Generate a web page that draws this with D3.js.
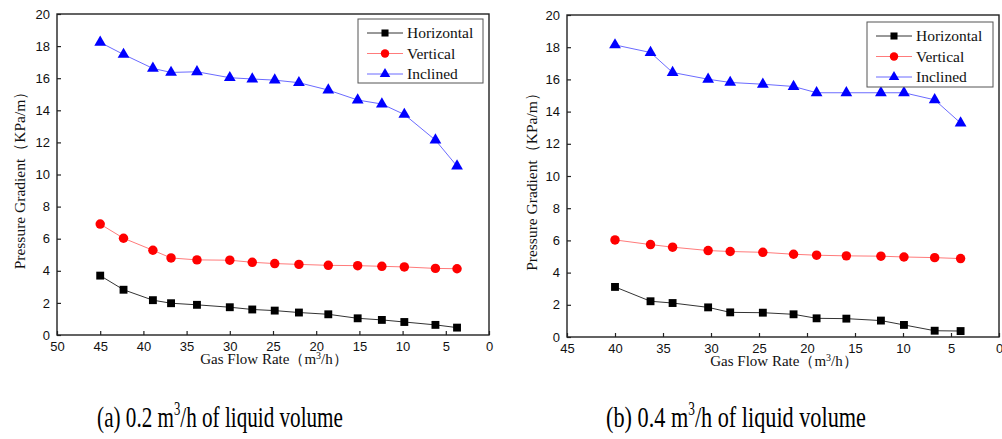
<!DOCTYPE html>
<html>
<head>
<meta charset="utf-8">
<script src="https://cdn.jsdelivr.net/npm/d3@7"></script>
<style>
	body { margin: 0; background: #fff; }
	svg { display: block; }
</style>
</head>
<body>
<main></main>
<script>
// panel (a): 0.2 m3/h liquid
const gasA = [45, 42.3, 38.9, 36.8, 33.8, 30.0, 27.4, 24.8, 22.0, 18.6, 15.2, 12.4, 9.8, 6.2, 3.7];
const horizontalA = [3.70, 2.82, 2.17, 1.98, 1.88, 1.73, 1.59, 1.52, 1.40, 1.29, 1.04, 0.94, 0.81, 0.63, 0.46];
const verticalA = [6.91, 6.03, 5.28, 4.80, 4.68, 4.66, 4.53, 4.45, 4.40, 4.34, 4.32, 4.28, 4.24, 4.15, 4.13];
const inclinedA = [18.23, 17.48, 16.61, 16.36, 16.40, 16.03, 15.95, 15.88, 15.72, 15.26, 14.64, 14.39, 13.74, 12.14, 10.52];

// panel (b): 0.4 m3/h liquid
const gasB = [40.0, 36.3, 34.0, 30.3, 28.0, 24.6, 21.4, 19.0, 15.9, 12.3, 9.9, 6.7, 4.0];
const horizontalB = [3.11, 2.22, 2.11, 1.84, 1.53, 1.51, 1.41, 1.16, 1.14, 1.02, 0.75, 0.39, 0.37];
const verticalB = [6.03, 5.74, 5.58, 5.37, 5.31, 5.26, 5.14, 5.08, 5.04, 5.02, 4.97, 4.93, 4.87];
const inclinedB = [18.14, 17.67, 16.43, 16.01, 15.81, 15.70, 15.56, 15.17, 15.17, 15.17, 15.17, 14.73, 13.29];

const seriesNames = ["Horizontal", "Vertical", "Inclined"];
const xTicksA = [50, 45, 40, 35, 30, 25, 20, 15, 10, 5, 0];
const xTicksB = [45, 40, 35, 30, 25, 20, 15, 10, 5, 0];
const yTicks = [0, 2, 4, 6, 8, 10, 12, 14, 16, 18, 20];

const styles = [
	{ line: "#333333", fill: "#000000", shape: d3.symbolSquare, size: 62 },
	{ line: "#ff7b7b", fill: "#ff0000", shape: d3.symbolCircle, size: 70 },
	{ line: "#6b6bff", fill: "#0000ff", shape: d3.symbolTriangle, size: 60 },
];

const serif = "'Liberation Serif', 'Times New Roman', serif";

const svg = d3.select("main")
	.append("svg")
	.attr("width", 1002)
	.attr("height", 439);

// text built from parts with a raised "3"
function richText(parent, parts, size, supSize, supRise) {
	const t = parent.append("text")
		.attr("text-anchor", "middle")
		.attr("fill", "#111")
		.style("font-family", serif)
		.style("font-size", size + "px");
	t.append("tspan").text(parts[0]);
	t.append("tspan").attr("dy", -supRise).style("font-size", supSize + "px").text("3");
	t.append("tspan").attr("dy", supRise).text(parts[1]);
	return t;
}

function drawPanel(p) {
	const xScale = d3.scaleLinear()
		.domain([p.xMax, 0])
		.range([p.left, p.right]);
	const yScale = d3.scaleLinear()
		.domain([0, 20])
		.range([p.bottom, p.top]);

	const g = svg.append("g");

	const xAxisGenerator = d3.axisBottom(xScale)
		.tickValues(p.xTicks)
		.tickFormat(d3.format("d"))
		.tickSizeInner(-4)
		.tickSizeOuter(0)
		.tickPadding(7);
	const xAxis = g.append("g")
		.attr("transform", `translate(0,${p.bottom})`)
		.call(xAxisGenerator);

	const yAxisGenerator = d3.axisLeft(yScale)
		.tickValues(yTicks)
		.tickFormat(d3.format("d"))
		.tickSizeInner(-4)
		.tickSizeOuter(0)
		.tickPadding(7);
	const yAxis = g.append("g")
		.attr("transform", `translate(${p.left},0)`)
		.call(yAxisGenerator);

	[xAxis, yAxis].forEach(ax => {
		ax.select(".domain").remove();
		ax.selectAll("line").attr("stroke", "#222").attr("stroke-width", 1.2);
		ax.selectAll("text")
			.attr("fill", "#111")
			.style("font-family", "'Liberation Sans', Arial, sans-serif")
			.style("font-size", "13px");
	});

	g.append("rect")
		.attr("x", p.left)
		.attr("y", p.top)
		.attr("width", p.right - p.left)
		.attr("height", p.bottom - p.top)
		.attr("fill", "none")
		.attr("stroke", "#222")
		.attr("stroke-width", 1.4);

	const seriesData = [p.horizontal, p.vertical, p.inclined];
	const lineGen = d3.line()
		.x(d => xScale(d[0]))
		.y(d => yScale(d[1]));

	seriesData.forEach((vals, i) => {
		const pts = vals.map((v, j) => [p.gas[j], v]);
		g.append("path")
			.datum(pts)
			.attr("d", lineGen)
			.attr("fill", "none")
			.attr("stroke", styles[i].line)
			.attr("stroke-width", 1);
		g.selectAll(null)
			.data(pts)
			.enter()
			.append("path")
			.attr("d", d3.symbol().type(styles[i].shape).size(styles[i].size))
			.attr("transform", d => `translate(${xScale(d[0])},${yScale(d[1])})`)
			.attr("fill", styles[i].fill);
	});

	// legend
	const lg = g.append("g");
	lg.append("rect")
		.attr("x", p.legend.x)
		.attr("y", p.legend.y)
		.attr("width", p.legend.w)
		.attr("height", p.legend.h)
		.attr("fill", "#fff")
		.attr("stroke", "#555")
		.attr("stroke-width", 1);
	seriesNames.forEach((name, i) => {
		const cy = p.legend.y + 14 + i * 20.5;
		const lx = p.legend.x + 9;
		lg.append("line")
			.attr("x1", lx)
			.attr("x2", lx + 36)
			.attr("y1", cy)
			.attr("y2", cy)
			.attr("stroke", styles[i].line)
			.attr("stroke-width", 1);
		lg.append("path")
			.attr("d", d3.symbol().type(styles[i].shape).size(styles[i].size * 0.8))
			.attr("transform", `translate(${lx + 18},${cy})`)
			.attr("fill", styles[i].fill);
		lg.append("text")
			.attr("x", lx + 40)
			.attr("y", cy + 5)
			.attr("fill", "#111")
			.style("font-family", serif)
			.style("font-size", "15.5px")
			.text(name);
	});

	// x axis title
	richText(g, ["Gas Flow Rate（m", "/h）"], 15, 10, 5)
		.attr("x", (p.left + p.right) / 2 + 1)
		.attr("y", p.bottom + 29);

	// y axis title
	g.append("text")
		.attr("transform", `translate(${p.yTitleX},${(p.top + p.bottom) / 2 + 2}) rotate(-90)`)
		.attr("text-anchor", "middle")
		.attr("fill", "#111")
		.style("font-family", serif)
		.style("font-size", "15.5px")
		.text("Pressure Gradient（KPa/m）");

	// caption, narrowed to the reference width
	const cap = richText(g, [p.capLabel + " m", "/h of liquid volume"], 30, 18, 12);
	cap.attr("fill", "#000");
	const sc = p.cap.w / cap.node().getComputedTextLength();
	cap.attr("transform", `translate(${p.cap.cx},427) scale(${sc},1)`);
}

drawPanel({
	left: 57, right: 489, top: 14, bottom: 335,
	xMax: 50, xTicks: xTicksA,
	gas: gasA, horizontal: horizontalA, vertical: verticalA, inclined: inclinedA,
	legend: { x: 358, y: 19, w: 125, h: 64 },
	yTitleX: 25,
	cap: { cx: 220, w: 246 },
	capLabel: "(a) 0.2",
});

drawPanel({
	left: 567, right: 999, top: 15, bottom: 337,
	xMax: 45, xTicks: xTicksB,
	gas: gasB, horizontal: horizontalB, vertical: verticalB, inclined: inclinedB,
	legend: { x: 867, y: 22, w: 126, h: 65 },
	yTitleX: 537,
	cap: { cx: 736, w: 260 },
	capLabel: "(b) 0.4",
});
</script>
</body>
</html>
